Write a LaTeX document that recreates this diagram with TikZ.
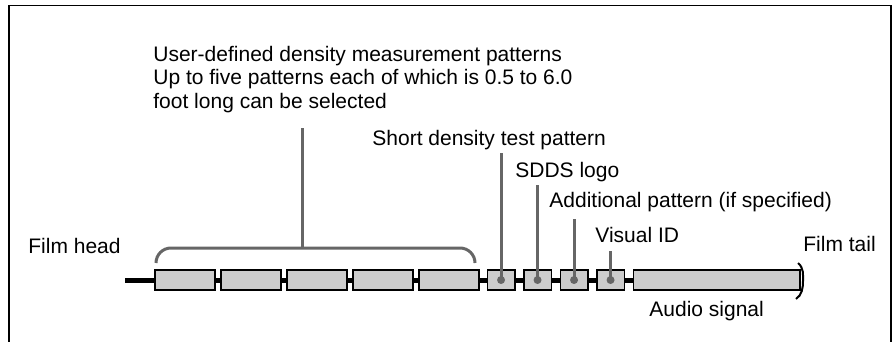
\documentclass[tikz,border=0pt]{standalone}
\usepackage{fontspec}
\setmainfont{Liberation Sans}
\usetikzlibrary{positioning, backgrounds}
\definecolor{leadgray}{HTML}{666666}
\definecolor{stripfill}{HTML}{CCCCCC}
\tikzset{
x=0.5pt, y=-0.5pt, % one unit is one pixel of the scan, y grows downwards
node distance=3pt, % gap between the long patterns
every node/.style={font=\fontsize{10.5}{12}\selectfont}, % sans text for all labels
patch/.style={draw, line width=0.75pt, fill=stripfill, outer sep=0pt, inner sep=0pt, minimum height=10pt, minimum width=30pt}, % a pattern on the film
short/.style={patch, minimum width=13.75pt}, % the short patterns
txt/.style={inner sep=0pt, anchor=base west}, % text placed by its baseline
leader/.style={draw=leadgray, line width=1.5pt}, % grey pointer lines
film/.style={line width=2.5pt}, % the film strip itself
}

\begin{document}
\begin{tikzpicture}
                \useasboundingbox (0,0) rectangle (893,342);
                \draw[line width=0.6pt] (9,342) -- (9,5.5) -- (891,5.5) -- (891,342);

                \coordinate (head) at (125,280);
                \node[patch] (p1) at (185,280) {};
                \node[patch, right=of p1] (p2) {};
                \node[patch, right=of p2] (p3) {};
                \node[patch, right=of p3] (p4) {};
                \node[patch, right=of p4] (p5) {};

                \node[short, right=4.15pt of p5] (sdt) {};
                \node[short, right=4.5pt of sdt] (logo) {};
                \node[short, right=4.5pt of logo] (add) {};
                \node[short, right=4.5pt of add] (vid) {};
                \node[patch, minimum width=83.35pt, right=4.5pt of vid] (audio) {};

                \begin{scope}[on background layer]
                    \draw[film] (head) -- (audio.west);
                \end{scope}

                % tail end of the strip
                \draw[line width=1pt] (798,263) .. controls (804,268) and (803,275) .. (803,281)
                    .. controls (803,288) and (802,295) .. (796,299);

                % brace over the user-defined patterns
                \coordinate (brL) at (156,263);
                \coordinate (brR) at (475,263);
                \coordinate (brM) at (302,248);
                \coordinate (brTop) at (302,128);
                \draw[leader, rounded corners=7.5pt] (brL) -- (156,248) -- (475,248) -- (brR);
                \draw[leader] (brM) -- (brTop);

                \coordinate (sdtTop) at (sdt.center |- 0,153);
                \coordinate (logoTop) at (logo.center |- 0,185);
                \coordinate (addTop) at (add.center |- 0,219);
                \coordinate (vidTop) at (vid.center |- 0,251);
                \draw[leader] (sdt.center) -- (sdtTop);
                \draw[leader] (logo.center) -- (logoTop);
                \draw[leader] (add.center) -- (addTop);
                \draw[leader] (vid.center) -- (vidTop);
                \foreach \s in {sdt, logo, add, vid}
                    \fill[leadgray] (\s.center) circle (2pt);

                % the base of a multi-line node is its last line
                \node[txt, align=left] (userdef) at (153,109) {User-defined density measurement patterns\\Up to five patterns each of which is 0.5 to 6.0\\foot long can be selected};
                \node[txt] (sdtText) at (372,145) {Short density test pattern};
                \node[txt] (logoText) at (515,177.5) {SDDS logo};
                \node[txt] (addText) at (549,207) {Additional pattern (if specified)};
                \node[txt] (vidText) at (595,242) {Visual ID};
                \node[txt] (headText) at (28,253) {Film head};
                \node[txt] (tailText) at (803,251) {Film tail};
                \node[txt] (audioText) at (649,316) {Audio signal};
\end{tikzpicture}
\end{document}
